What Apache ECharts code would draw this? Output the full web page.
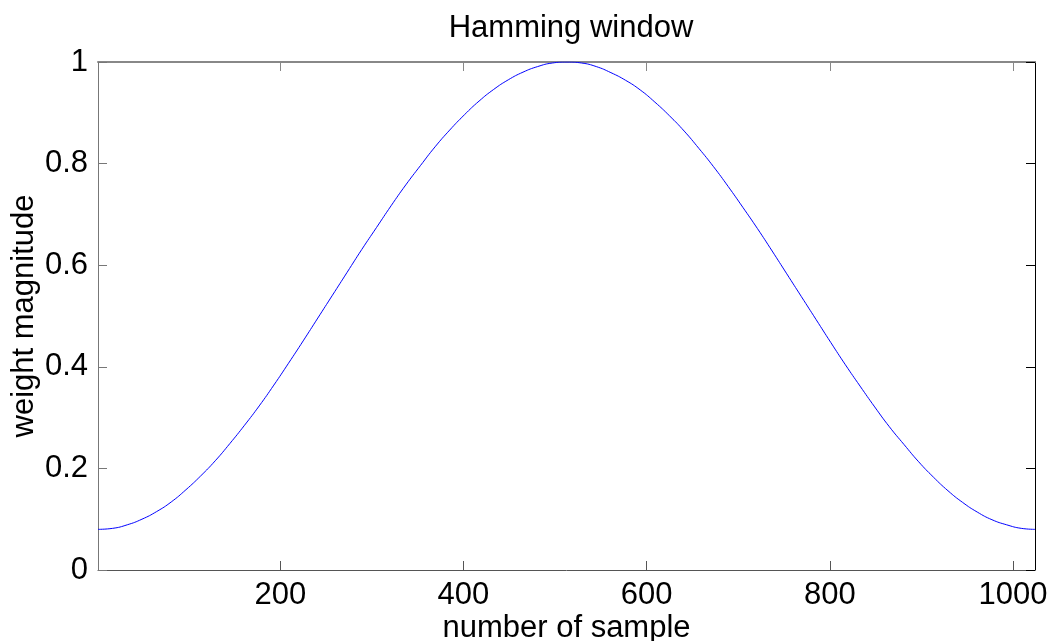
<!DOCTYPE html>
<html>
<head>
<meta charset="utf-8">
<title>Hamming window</title>
<script src="https://cdn.jsdelivr.net/npm/echarts@6/dist/echarts.min.js"></script>
<style>
  html, body { margin: 0; padding: 0; background: #fff; }
  #main { width: 1055px; height: 641px; }
</style>
</head>
<body>
<div id="main"></div>
<script>
// sample positions (every 16 samples, plus the last one)
var sampleIdx = [1, 17, 33, 49, 65, 81, 97, 113, 129, 145, 161, 177, 193, 209, 225, 241,
  257, 273, 289, 305, 321, 337, 353, 369, 385, 401, 417, 433, 449, 465, 481, 497,
  513, 529, 545, 561, 577, 593, 609, 625, 641, 657, 673, 689, 705, 721, 737, 753,
  769, 785, 801, 817, 833, 849, 865, 881, 897, 913, 929, 945, 961, 977, 993, 1009, 1024];
// weight
var weights = [0.080, 0.082, 0.089, 0.100, 0.115, 0.134, 0.158, 0.185, 0.215, 0.249, 0.285, 0.323,
  0.364, 0.407, 0.451, 0.496, 0.541, 0.586, 0.631, 0.674, 0.717, 0.758, 0.796, 0.833,
  0.866, 0.896, 0.923, 0.946, 0.965, 0.980, 0.991, 0.998, 1.000,
  0.998, 0.991, 0.979, 0.964, 0.945, 0.921, 0.894, 0.864, 0.830, 0.794, 0.755, 0.714,
  0.672, 0.628, 0.583, 0.538, 0.493, 0.448, 0.404, 0.362, 0.321, 0.282, 0.247, 0.213,
  0.183, 0.156, 0.133, 0.114, 0.099, 0.089, 0.082, 0.080];
var xTicks = [200, 400, 600, 800, 1000];

var FONT = 'Arial, "Liberation Sans", sans-serif';

var pts = [];
for (var i = 0; i < sampleIdx.length; i++) {
  pts.push([sampleIdx[i], weights[i]]);
}

var chart = echarts.init(document.getElementById('main'));

var option = {
  backgroundColor: '#fff',
  animation: false,
  title: {
    text: 'Hamming window',
    left: 566, textAlign: 'center',
    top: 8,
    textStyle: { fontFamily: FONT, fontSize: 31, fontWeight: 'normal', color: '#000' }
  },
  grid: { left: 98, right: 20, top: 62, bottom: 71, containLabel: false, outerBoundsMode: 'none' },
  xAxis: [{
    type: 'value', min: 1, max: 1024,
    name: 'number of sample', nameLocation: 'middle', nameGap: 43, nameMoveOverlap: false,
    nameTextStyle: { fontFamily: FONT, fontSize: 31, color: '#000' },
    axisLine: { show: true, onZero: false, lineStyle: { color: '#555', width: 1 } },
    axisTick: { show: true, inside: true, length: 9, customValues: xTicks, lineStyle: { color: '#555' } },
    axisLabel: {
      customValues: xTicks, margin: 10, fontFamily: FONT, fontSize: 31, color: '#000',
      formatter: function (v) { return String(v); }
    },
    splitLine: { show: false }
  }, {
    type: 'value', min: 1, max: 1024, position: 'top',
    axisLine: { show: true, onZero: false, lineStyle: { color: '#888', width: 2 } },
    axisTick: { show: true, inside: true, length: 9, customValues: xTicks, lineStyle: { color: '#888' } },
    axisLabel: { show: false },
    splitLine: { show: false }
  }],
  yAxis: [{
    type: 'value', min: 0, max: 1, interval: 0.2,
    name: 'weight magnitude', nameLocation: 'middle', nameGap: 58, nameMoveOverlap: false,
    nameTextStyle: { fontFamily: FONT, fontSize: 31, color: '#000' },
    axisLine: { show: true, onZero: false, lineStyle: { color: '#777', width: 1 } },
    axisTick: { show: true, inside: true, length: 9, lineStyle: { color: '#777' } },
    axisLabel: { margin: 10, fontFamily: FONT, fontSize: 31, color: '#000' },
    splitLine: { show: false }
  }, {
    type: 'value', min: 0, max: 1, interval: 0.2, position: 'right',
    axisLine: { show: true, onZero: false, lineStyle: { color: '#000', width: 1 } },
    axisTick: { show: true, inside: true, length: 9, lineStyle: { color: '#000' } },
    axisLabel: { show: false },
    splitLine: { show: false }
  }],
  series: [{
    type: 'line',
    xAxisIndex: 0, yAxisIndex: 0,
    data: pts,
    smooth: true,
    showSymbol: false,
    lineStyle: { color: '#0000ff', width: 1 }
  }]
};

chart.setOption(option);
</script>
</body>
</html>
